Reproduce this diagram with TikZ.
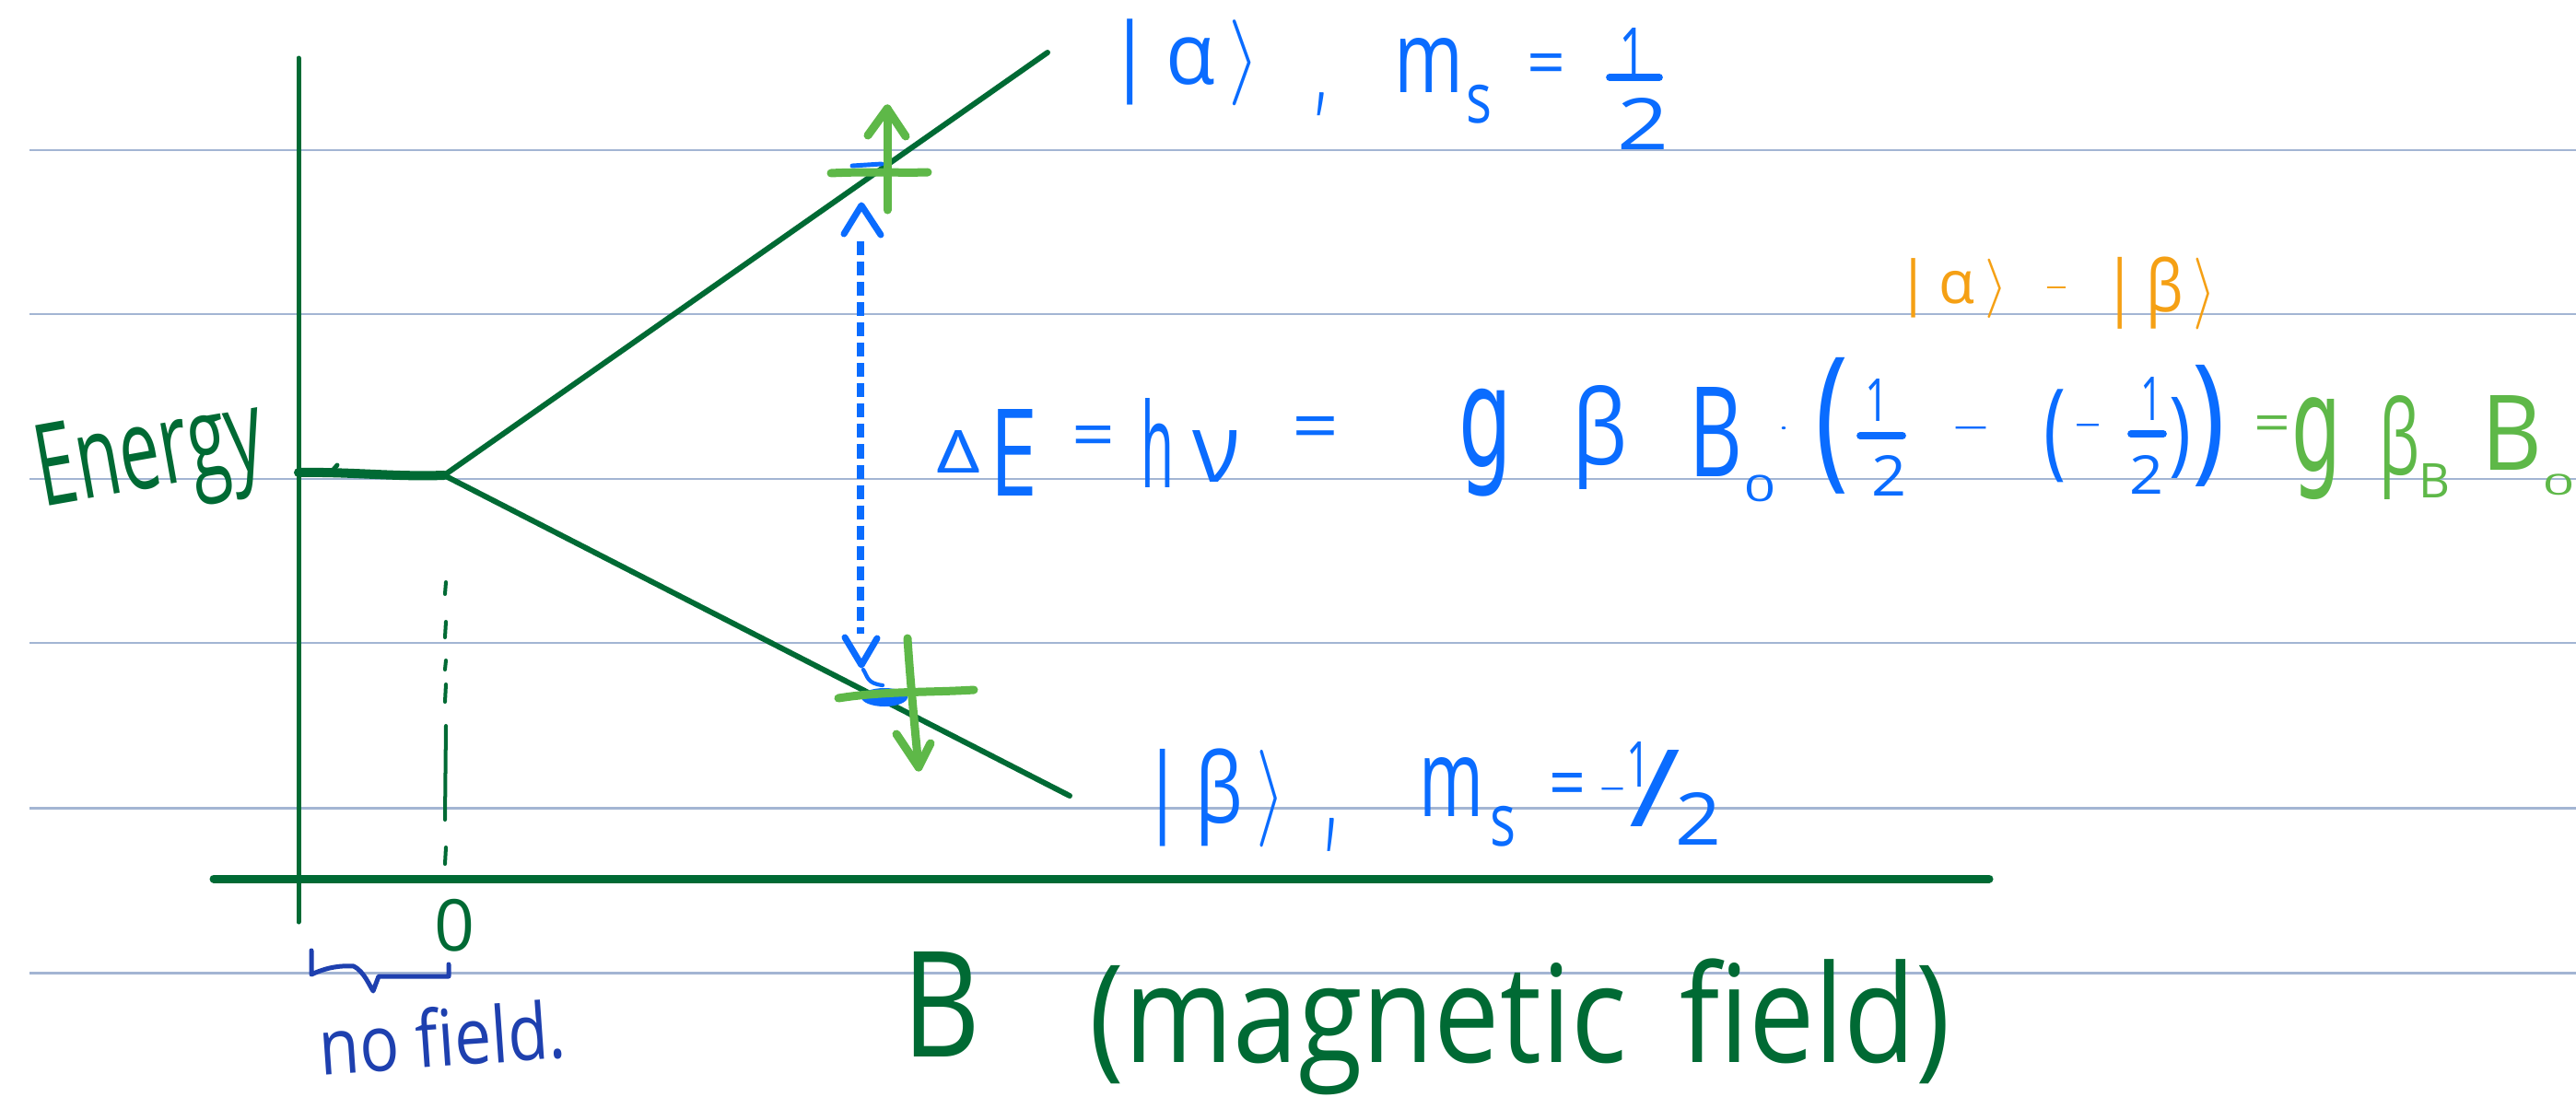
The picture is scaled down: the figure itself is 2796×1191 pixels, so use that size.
\documentclass[tikz,border=0pt]{standalone}
\usepackage{fontspec}
\setmainfont{Open Sans}
\newfontfamily\dvs{DejaVu Sans}
\usepackage{graphicx}
\newlength\upx \setlength\upx{0.01cm}
\newcommand\G[3]{\resizebox*{#1\upx}{#2\upx}{#3}}
\definecolor{dgreen}{RGB}{0,106,52}
\definecolor{lgreen}{RGB}{94,184,72}
\definecolor{pblue}{RGB}{10,108,255}
\definecolor{nblue}{RGB}{30,64,175}
\definecolor{porange}{RGB}{245,160,20}
\definecolor{rule}{RGB}{163,181,211}
\tikzset{
  t/.style={inner sep=0pt, outer sep=0pt, anchor=center},
  rulepen/.style={draw=rule, line width=0.85pt},
  axispen/.style={draw=dgreen, line width=1.42pt, line cap=round},
  baxis/.style={draw=dgreen, line width=2.56pt, line cap=round},
  levelpen/.style={draw=dgreen, line width=1.7pt, line cap=round, line join=round},
  crosspen/.style={draw=lgreen, line width=2.56pt, line cap=round, line join=round},
  bluepen/.style={draw=pblue, line width=2pt, line cap=round, line join=round},
  fracbar/.style={line width=2.2pt, line cap=round},
}
\begin{document}
\begin{tikzpicture}[x=0.01cm, y=-0.01cm]
\useasboundingbox (0,0) rectangle (2796,1191);
\fill[white] (0,0) rectangle (2796,1191);
% ruled lines
\foreach \yy in {163,341,520,698,877,1056} \draw[rulepen] (32,\yy) -- (2796,\yy);

% axes
\coordinate (vtop) at (324,63);
\coordinate (vbot) at (324,1001);
\coordinate (hl) at (232,954);
\coordinate (hr) at (2159,954);
\draw[axispen] (vtop) -- (vbot);
\draw[baxis] (hl) -- (hr);

% energy level and splitting
\coordinate (lev0) at (324,513);
\coordinate (split) at (482,516);
\coordinate (aend) at (1137,57);
\coordinate (bend) at (1161,864);
\draw[dgreen, line width=2.85pt, line cap=round] (lev0) .. controls (380,512) and (430,518) .. (split);
\draw[dgreen, line width=1.4pt, line cap=round] (360,512) -- (366,505);
\draw[levelpen] (aend) -- (split) -- (bend);

% dashed zero line
\foreach \a/\b in {632/645,675/692,717/727,743/762,788/890,920/938}
  \draw[dgreen, line width=1.14pt, line cap=round] (484,\a) -- (483,\b);

% labels on axes
\node[t, text=dgreen, rotate=10] (energy) at (164,500) {\G{248}{118}{Energy}};
\node[t, text=dgreen] (zero) at (493,1005) {\G{44}{57}{0}};
\draw[nblue, line width=1.42pt, line cap=round, line join=round]
  (338,1032) -- (338,1058) .. controls (355,1050) and (370,1048) .. (384,1049)
  .. controls (395,1055) and (400,1068) .. (405,1076) -- (411,1060)
  -- (487,1060) -- (487,1047);
\node[t, text=nblue, rotate=4] (nofield) at (480,1126) {\G{268}{66}{no field.}};
\node[t, text=dgreen] (Blab) at (1022,1090) {\G{85}{114}{B}};
\node[t, text=dgreen] (mfield) at (1650,1115) {\G{935}{148}{(magnetic\hspace{0.45em}field)}};

% green crosses (spin arrows)
\coordinate (uptip) at (963,118);
\coordinate (upbase) at (963,228);
\draw[crosspen] (902,188) .. controls (940,186) and (980,188) .. (1007,187);
\draw[crosspen] (upbase) -- (uptip);
\draw[crosspen] (uptip) ++(-21,29) -- (uptip) -- ++(20,30);
\draw[pblue, line width=1.4pt, line cap=round] (925,180) -- (957,178);

\coordinate (dntop) at (985,693);
\coordinate (dntip) at (997,833);
\fill[pblue] (960,757) ellipse [x radius=0.25cm, y radius=0.1cm];
\draw[bluepen, line width=1.2pt] (937,727) .. controls (942,735) and (941,742) .. (958,744);
\draw[crosspen] (910,758) .. controls (960,750) and (1010,752) .. (1057,749);
\draw[crosspen] (dntop) .. controls (988,740) and (993,790) .. (dntip);
\draw[crosspen] (dntip) ++(-24,-36) -- (dntip) -- ++(13,-26);

% blue dashed double arrow
\coordinate (atip) at (935,223);
\coordinate (btip) at (935,722);
\draw[bluepen, dash pattern=on 4.27pt off 2pt, line cap=butt] (934,262) -- (934,688);
\draw[bluepen] (atip) ++(-19,31) -- (atip) -- ++(21,32);
\draw[bluepen] (btip) ++(-18,-30) -- (btip) -- ++(17,-29);

% |alpha> , m_s = 1/2
\node[t, text=pblue] (ket-a) at (1285,68) {\G{165}{94}{|\,α\,$\rangle$}};
\node[t, text=pblue] (ca) at (1434,113) {\G{12}{25}{,}};
\node[t, text=pblue] (ma) at (1551,71) {\G{75}{59}{m}};
\node[t, text=pblue] (sa) at (1605,113) {\G{28}{42}{s}};
\node[t, text=pblue] (eqa) at (1678,76) {\G{42}{35}{=}};
\node[t, text=pblue] (na) at (1772,58) {\G{30}{55}{1}};
\node[t, text=pblue] (da) at (1783,135) {\G{56}{56}{2}};
\draw[pblue, fracbar] (1747,84) -- (1801,84);

% |beta> , m_s = -1/2
\node[t, text=pblue] (ket-b) at (1317,866) {\G{156}{107}{|\,β\,$\rangle$}};
\node[t, text=pblue] (cb) at (1445,906) {\G{12}{36}{,}};
\node[t, text=pblue] (mb) at (1575,854) {\G{70}{64}{m}};
\node[t, text=pblue] (sb) at (1631,897) {\G{28}{44}{s}};
\node[t, text=pblue] (eqb) at (1701,858) {\G{40}{38}{=}};
\node[t, text=pblue] (minb) at (1750,860) {\G{31}{10}{-}};
\node[t, text=pblue] (nb) at (1778,830) {\G{26}{49}{1}};
\node[t, text=pblue] (slb) at (1796,856) {\G{56}{83}{/}};
\node[t, text=pblue] (db) at (1843,889) {\G{50}{57}{2}};

% Delta E = h nu = g beta B0 (1/2 - (-1/2))
\node[t, text=pblue] (Delta) at (1040,490) {\G{48}{46}{Δ}};
\node[t, text=pblue] (E) at (1100,491) {\G{52}{94}{E}};
\node[t, text=pblue] (eq1) at (1187,480) {\G{47}{35}{=}};
\node[t, text=pblue] (h) at (1256,481) {\G{36}{97}{h}};
\node[t, text=pblue] (nu) at (1320,495) {\G{52}{56}{ν}};
\node[t, text=pblue] (eq2) at (1428,471) {\G{51}{37}{=}};
\node[t, text=pblue] (g1) at (1612,481) {\G{58}{117}{\dvs g}};
\node[t, text=pblue] (beta1) at (1736,475) {\G{60}{113}{β}};
\node[t, text=pblue] (B1) at (1862,469) {\G{58}{97}{B}};
\node[t, text=pblue] (z1) at (1910,530) {\G{34}{29}{0}};
\node[t, text=pblue] (dot) at (1936,468) {\G{10}{10}{·}};
\node[t, text=pblue] (lp1) at (1988,462) {\G{36}{148}{(}};
\node[t, text=pblue] (n1) at (2037,434) {\G{26}{46}{1}};
\draw[pblue, fracbar] (2019,473) -- (2065,473);
\node[t, text=pblue] (d1) at (2050,516) {\G{38}{44}{2}};
\node[t, text=pblue] (mi1) at (2139,468) {\G{44}{10}{-}};
\node[t, text=pblue] (lp2) at (2230,473) {\G{24}{101}{(}};
\node[t, text=pblue] (mi2) at (2266,465) {\G{32}{10}{-}};
\node[t, text=pblue] (n2) at (2335,433) {\G{24}{47}{1}};
\draw[pblue, fracbar] (2313,471) -- (2348,471);
\node[t, text=pblue] (d2) at (2330,515) {\G{37}{42}{2}};
\node[t, text=pblue] (rp1) at (2366,475) {\G{24}{88}{)}};
\node[t, text=pblue] (rp2) at (2397,462) {\G{36}{132}{)}};

% = g beta_B B0 (green)
\node[t, text=lgreen] (eq3) at (2466,466) {\G{40}{28}{=}};
\node[t, text=lgreen] (g2) at (2514,487) {\G{54}{111}{\dvs g}};
\node[t, text=lgreen] (beta2) at (2604,486) {\G{44}{113}{β}};
\node[t, text=lgreen] (subB) at (2642,522) {\G{34}{37}{B}};
\node[t, text=lgreen] (B2) at (2726,470) {\G{66}{81}{B}};
\node[t, text=lgreen] (z2) at (2777,526) {\G{34}{23}{0}};

% orange |alpha> - |beta>
\node[t, text=porange] (oka) at (2119,313) {\G{120}{65}{|\,α\,$\rangle$}};
\node[t, text=porange] (omin) at (2232,316) {\G{27}{8}{-}};
\node[t, text=porange] (okb) at (2344,318) {\G{122}{79}{|\,β\,$\rangle$}};
\end{tikzpicture}
\end{document}
